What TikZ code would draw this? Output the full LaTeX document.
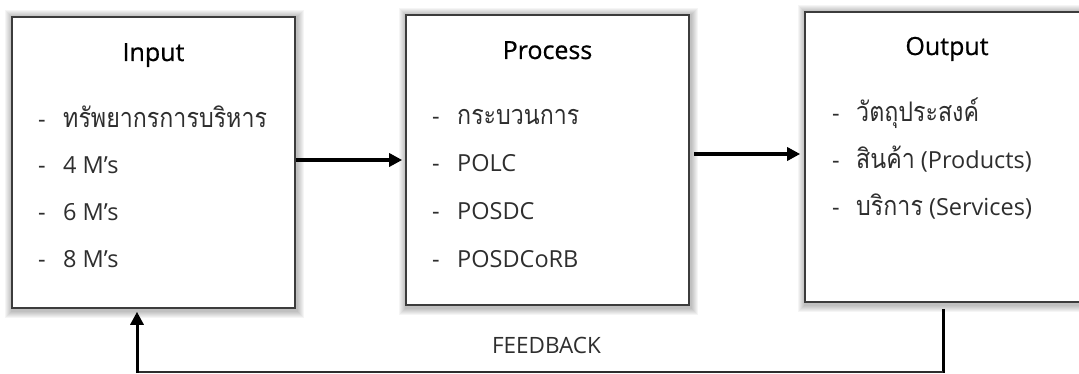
\documentclass[tikz,border=0pt]{standalone}
\usepackage{fontspec}
\setmainfont{Open Sans}
\newfontfamily\thaifont[Script=Thai, FakeStretch=0.86]{Loma}
\newfontfamily\headfont[FakeBold=0.7]{Open Sans}
\usetikzlibrary{arrows.meta,backgrounds}

\definecolor{inkgray}{HTML}{2E2E2E}
\definecolor{framegray}{HTML}{3C3C3C}

\tikzset{
  panel/.style={draw=framegray, line width=1.6pt, fill=white, inner sep=0pt},
  heading/.style={anchor=base, font=\headfont\fontsize{25}{28}\selectfont, text=black, inner sep=0pt},
  bullet/.style={anchor=base west, font=\fontsize{23.5}{27}\selectfont, text=inkgray, inner sep=0pt},
  flow/.style={line width=3.6pt, -{Triangle[length=13pt,width=13pt]}},
  backline/.style={line width=3pt},
}

% Thai words in the item lists
\newcommand{\thw}[1]{{\thaifont\fontsize{27}{30}\selectfont #1}}

% soft shadow around a panel node
\newcommand{\panelshadow}[1]{%
  \foreach \k in {1,...,7}{%
    \fill[black, opacity=0.04]
      ([shift={(-\k pt+1pt,\k pt-1pt)}]#1.north west)
      rectangle ([shift={(\k pt+1pt,-\k pt-2pt)}]#1.south east);
  }%
}

\begin{document}
\begin{tikzpicture}[x=1pt, y=-1pt]
\useasboundingbox (0,0) rectangle (1079,374);

% the three stages
\node[panel, minimum width=283pt, minimum height=291pt] (inp)  at (153.5,162.5) {};
\node[panel, minimum width=283pt, minimum height=290pt] (proc) at (547.5,160) {};
\node[panel, minimum width=284pt, minimum height=290pt] (outp) at (947,157) {};

\begin{scope}[on background layer]
  \panelshadow{inp}
  \panelshadow{proc}
  \panelshadow{outp}
\end{scope}

% headings
\node[heading] (tin)  at (153.5,61) {Input};
\node[heading] (tpr)  at (547.5,59) {Process};
\node[heading] (tout) at (947,55)   {Output};

% input items
\node[bullet] (di1) at (38,128) {-};
\node[bullet] (i1)  at (63,128) {\thw{ทรัพยากรการบริหาร}};
\node[bullet] (di2) at (38,174) {-};
\node[bullet] (i2)  at (63,174) {4 M’s};
\node[bullet] (di3) at (38,221) {-};
\node[bullet] (i3)  at (63,221) {6 M’s};
\node[bullet] (di4) at (38,268) {-};
\node[bullet] (i4)  at (63,268) {8 M’s};

% process items
\node[bullet] (dp1) at (432,125) {-};
\node[bullet] (p1)  at (457,125) {\thw{กระบวนการ}};
\node[bullet] (dp2) at (432,172) {-};
\node[bullet] (p2)  at (457,172) {POLC};
\node[bullet] (dp3) at (432,220) {-};
\node[bullet] (p3)  at (457,220) {POSDC};
\node[bullet] (dp4) at (432,267) {-};
\node[bullet] (p4)  at (457,267) {POSDCoRB};

% output items
\node[bullet] (do1) at (832,122) {-};
\node[bullet] (o1)  at (856,122) {\thw{วัตถุประสงค์}};
\node[bullet] (do2) at (832,169) {-};
\node[bullet] (o2)  at (856,169) {\thw{สินค้า} (Products)};
\node[bullet] (do3) at (832,216) {-};
\node[bullet] (o3)  at (856,216) {\thw{บริการ} (Services)};

% forward flow
\coordinate (ya) at (0,160);
\coordinate (yb) at (0,154);
\draw[flow, shorten >=3pt] (inp.east |- ya) -- (proc.west |- ya);
\draw[flow, shorten <=4pt, shorten >=4pt] (proc.east |- yb) -- (outp.west |- yb);

% feedback loop
\coordinate (fbR) at (943,372);
\coordinate (fbL) at (137,372);
\draw[backline, shorten <=6pt] (outp.south -| fbR) -- ([yshift=-1pt]fbR);
\draw[line width=1.6pt, draw=inkgray] (fbR) -- (fbL);
\draw[backline, -{Triangle[length=13pt,width=13pt]}, shorten >=3pt]
  ([yshift=-1pt]fbL) -- (inp.south -| fbL);

\node[anchor=base, font=\fontsize{22.5}{26}\selectfont, text=inkgray, inner sep=0pt]
  (fb) at (546.5,353) {FEEDBACK};
\end{tikzpicture}
\end{document}
